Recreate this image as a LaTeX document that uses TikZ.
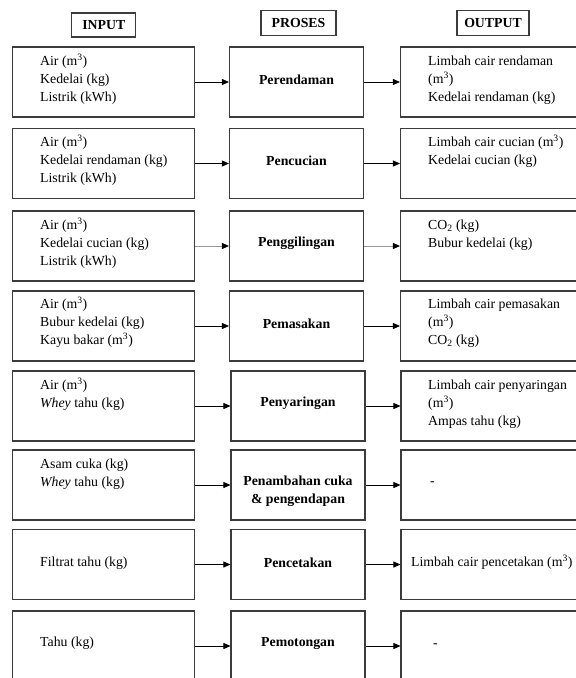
\documentclass[tikz,border=0pt]{standalone}
\usepackage{fontspec}
\setmainfont{Liberation Serif}
\usetikzlibrary{arrows.meta}
\definecolor{boxgray}{RGB}{60,60,60}
\newcommand\mcube{\smash{\textsuperscript{3}}}
\newcommand\mtwo{\textsubscript{2}}
\begin{document}
\begin{tikzpicture}[x=1pt,y=-1pt,
  box/.style={draw=boxgray, line width=1.1pt, rectangle, inner sep=0pt, minimum height=70pt},
  inbox/.style={box, minimum width=182pt},
  prbox/.style={box, minimum width=134pt},
  outbox/.style={box, minimum width=200pt},
  hdr/.style={draw=boxgray, line width=1.1pt, inner sep=0pt, minimum height=25pt, font=\fontsize{13.8}{18}\selectfont\bfseries},
  txt/.style={inner sep=0pt, anchor=north west, align=left, font=\fontsize{13.8}{18}\selectfont},
  dashtxt/.style={inner sep=0pt, anchor=base west, font=\fontsize{13.8}{18}\selectfont},
  ptxt/.style={inner sep=0pt, align=center, font=\fontsize{13.8}{18}\selectfont\bfseries},
  flow/.style={draw=black, line width=0.8pt, -{Triangle[length=7pt,width=6pt]}},
  flowgray/.style={draw=gray!80, line width=0.9pt, -{Triangle[length=7pt,width=6pt,color=black]}},
]
\useasboundingbox (0,0) rectangle (576,678);
\fill[white] (0,0) rectangle (576,678);

% headers
\node[hdr, minimum width=64pt, minimum height=24pt] (hin) at (103.8,25) {INPUT};
\node[hdr, minimum width=75pt] (hpr) at (298.5,23) {PROSES};
\node[hdr, minimum width=72pt] (hout) at (493,23) {OUTPUT};

% row 1 (top 47)
\node[inbox] (in1) at (103.5,82) {};
\node[prbox] (pr1) at (296.5,82) {};
\node[outbox] (out1) at (500.5,82) {};
\node[txt] (tin1) at (40,56) {Air (m\mcube)\\Kedelai (kg)\\Listrik (kWh)};
\node[ptxt] (tpr1) at (296.5,80) {Perendaman};
\node[txt] (tout1) at (428,56) {Limbah cair rendaman\\(m\mcube)\\Kedelai rendaman (kg)};
\draw[flow] (in1) -- (pr1);
\draw[flow] (pr1) -- (out1);

% row 2 (top 128)
\node[inbox] (in2) at (103.5,163.5) {};
\node[prbox] (pr2) at (296.5,163.5) {};
\node[outbox] (out2) at (500.5,163.5) {};
\node[txt] (tin2) at (40,137) {Air (m\mcube)\\Kedelai rendaman (kg)\\Listrik (kWh)};
\node[ptxt] (tpr2) at (296.5,161) {Pencucian};
\node[txt] (tout2) at (428,137) {Limbah cair cucian (m\mcube)\\Kedelai cucian (kg)};
\draw[flow] (in2) -- (pr2);
\draw[flow] (pr2) -- (out2);

% row 3 (top 211)
\node[inbox] (in3) at (103.5,246) {};
\node[prbox] (pr3) at (296.5,246) {};
\node[outbox] (out3) at (500.5,246) {};
\node[txt] (tin3) at (40,220) {Air (m\mcube)\\Kedelai cucian (kg)\\Listrik (kWh)};
\node[ptxt] (tpr3) at (296.5,243) {Penggilingan};
\node[txt] (tout3) at (428,220) {CO\mtwo{} (kg)\\Bubur kedelai (kg)};
\draw[flowgray] (in3) -- (pr3);
\draw[flowgray] (pr3) -- (out3);

% row 4 (top 290)
\node[inbox] (in4) at (103.5,326) {};
\node[prbox] (pr4) at (296.5,326) {};
\node[outbox] (out4) at (500.5,326) {};
\node[txt] (tin4) at (40,299) {Air (m\mcube)\\Bubur kedelai (kg)\\Kayu bakar (m\mcube)};
\node[ptxt] (tpr4) at (296.5,324) {Pemasakan};
\node[txt] (tout4) at (428,299) {Limbah cair pemasakan\\(m\mcube)\\CO\mtwo{} (kg)};
\draw[flow] (in4) -- (pr4);
\draw[flow] (pr4) -- (out4);

% row 5 (top 371)
\node[inbox] (in5) at (103.5,406) {};
\node[prbox] (pr5) at (298,406) {};
\node[outbox] (out5) at (501,406) {};
\node[txt] (tin5) at (40,380) {Air (m\mcube)\\\textit{Whey} tahu (kg)};
\node[ptxt] (tpr5) at (298,403) {Penyaringan};
\node[txt] (tout5) at (428,380) {Limbah cair penyaringan\\(m\mcube)\\Ampas tahu (kg)};
\draw[flow] (in5) -- (pr5);
\draw[flow] (pr5) -- (out5);

% row 6 (top 450)
\node[inbox] (in6) at (103.5,485) {};
\node[prbox] (pr6) at (298,485) {};
\node[outbox] (out6) at (501,485) {};
\node[txt] (tin6) at (40,459) {Asam cuka (kg)\\\textit{Whey} tahu (kg)};
\node[ptxt] (tpr6) at (298,491) {Penambahan cuka\\\& pengendapan};
\node[dashtxt] (tout6) at (430,485.5) {-};
\draw[flow] (in6) -- (pr6);
\draw[flow] (pr6) -- (out6);

% row 7 (top 529)
\node[inbox] (in7) at (103.5,564.5) {};
\node[prbox] (pr7) at (298,564.5) {};
\node[outbox] (out7) at (501,564.5) {};
\node[txt] (tin7) at (40,557) {Filtrat tahu (kg)};
\node[ptxt] (tpr7) at (298,563) {Pencetakan};
\node[txt] (tout7) at (411,557) {Limbah cair pencetakan (m\mcube)};
\draw[flow] (in7) -- (pr7);
\draw[flow] (pr7) -- (out7);

% row 8 (top 611)
\node[inbox] (in8) at (103.5,646) {};
\node[prbox] (pr8) at (298,646) {};
\node[outbox] (out8) at (501,646) {};
\node[txt] (tin8) at (40,637) {Tahu (kg)};
\node[ptxt] (tpr8) at (298,643) {Pemotongan};
\node[dashtxt] (tout8) at (433,647.5) {-};
\draw[flow] (in8) -- (pr8);
\draw[flow] (pr8) -- (out8);
\end{tikzpicture}
\end{document}
